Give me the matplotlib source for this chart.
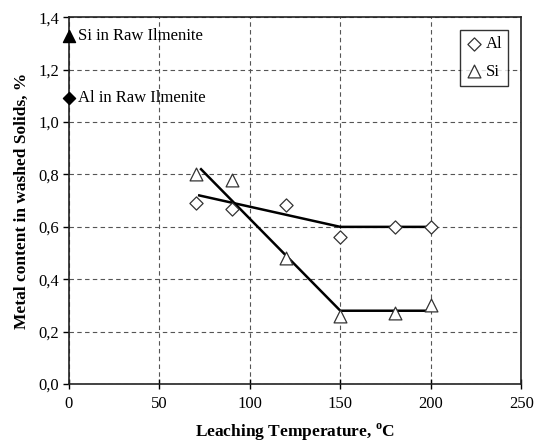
import numpy as np
import matplotlib
matplotlib.use("Agg")
import matplotlib.pyplot as plt
from matplotlib.ticker import FuncFormatter

plt.rcParams['font.family'] = ['Liberation Serif', 'DejaVu Serif']

# measured points
temp = [70, 90, 120, 150, 180, 200]
al_content = [0.69, 0.67, 0.685, 0.56, 0.60, 0.60]
si_content = [0.80, 0.78, 0.48, 0.26, 0.27, 0.30]

# trend lines
al_fit_x = [72, 150, 200]
al_fit_y = [0.72, 0.60, 0.60]
si_fit_x = [73, 150, 200]
si_fit_y = [0.82, 0.28, 0.28]

# raw ilmenite reference values
si_raw = 1.33
al_raw = 1.09

fig = plt.figure(figsize=(5.39, 4.42), dpi=100)
ax = fig.add_axes([0.128, 0.131, 0.839, 0.830])

ax.plot(al_fit_x, al_fit_y, color='black', linewidth=1.8)
ax.plot(si_fit_x, si_fit_y, color='black', linewidth=1.8)

ax.scatter(temp, al_content, marker='D', s=45, facecolors='white', edgecolors='#333333',
           linewidths=0.9, zorder=3, label='Al')
ax.scatter(temp, si_content, marker='^', s=85, facecolors='white', edgecolors='#333333',
           linewidths=0.9, zorder=3, label='Si')

ax.scatter([0], [si_raw], marker='^', s=75, color='black', zorder=4, clip_on=False)
ax.scatter([0], [al_raw], marker='D', s=38, color='black', zorder=4, clip_on=False)
ax.text(5, si_raw, 'Si in Raw Ilmenite', fontsize=12, va='center')
ax.text(5, al_raw, 'Al in Raw Ilmenite', fontsize=12, va='center')

ax.set_xlim(0, 250)
ax.set_ylim(0, 1.4)
ax.set_xticks(np.arange(0, 251, 50))
ax.set_yticks(np.arange(0, 1.41, 0.2))
ax.yaxis.set_major_formatter(FuncFormatter(lambda v, p: f"{v:.1f}".replace('.', ',')))
ax.tick_params(axis='x', direction='inout', length=7, width=1, labelsize=12, colors='black', pad=5)
ax.tick_params(axis='y', direction='out', length=4, width=1, labelsize=12, colors='black', pad=3)
ax.grid(True, color='#555555', linestyle=(0, (4, 3)), linewidth=0.8)
ax.set_axisbelow(True)
for spine in ax.spines.values():
    spine.set_linewidth(1.2)
    spine.set_color('#222222')

ax.set_xlabel('Leaching Temperature, $^{\\mathregular{o}}$C', fontsize=12.5, fontweight='bold', labelpad=7)
ax.set_ylabel('Metal content in washed Solids, %', fontsize=12.5, fontweight='bold', labelpad=6)

leg = ax.legend(loc='upper right', fontsize=12, frameon=True, fancybox=False,
                handletextpad=0.2, handlelength=1.0, borderpad=0.35, labelspacing=0.7,
                bbox_to_anchor=(0.99, 0.987))
leg.get_frame().set_edgecolor('black')
leg.get_frame().set_linewidth(1.0)

fig.savefig('out.png', dpi=100, facecolor='white')
